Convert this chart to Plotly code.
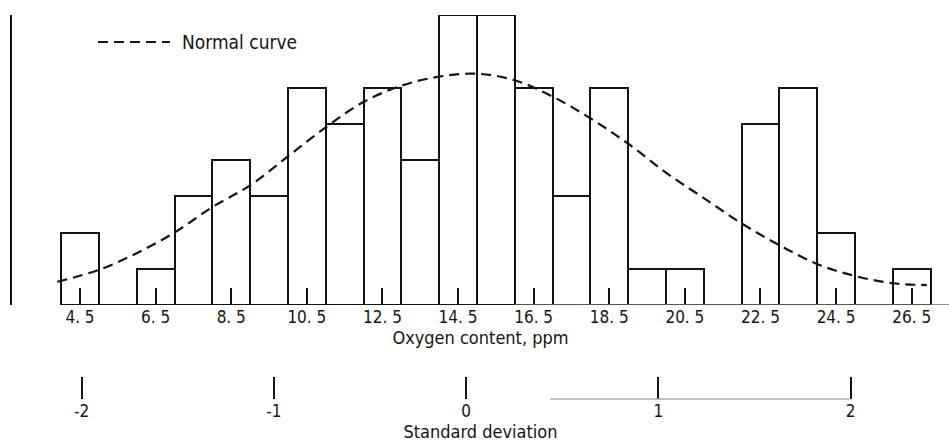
import plotly.graph_objects as go

# ---- data ----
bin_centers = [4.5, 5.5, 6.5, 7.5, 8.5, 9.5, 10.5, 11.5, 12.5, 13.5, 14.5, 15.5,
               16.5, 17.5, 18.5, 19.5, 20.5, 21.5, 22.5, 23.5, 24.5, 25.5, 26.5]
counts = [2, 0, 1, 3, 4, 3, 6, 5, 6, 4, 8, 8,
          6, 3, 6, 1, 1, 0, 5, 6, 2, 0, 1]

curve_x = [3.9, 5, 6, 7, 8, 9, 10, 11, 12, 13, 14, 15, 16, 17, 18, 19, 20, 21,
           22, 23, 24, 25, 26, 26.9]
curve_y = [0.64, 0.97, 1.43, 2.0, 2.7, 3.3, 4.1, 4.9, 5.6, 6.05, 6.3, 6.38, 6.2,
           5.75, 5.15, 4.45, 3.65, 2.95, 2.25, 1.65, 1.13, 0.8, 0.6, 0.55]

ppm_ticks = [4.5, 6.5, 8.5, 10.5, 12.5, 14.5, 16.5, 18.5, 20.5, 22.5, 24.5, 26.5]
ppm_ticktext = ["4. 5", "6. 5", "8. 5", "10. 5", "12. 5", "14. 5", "16. 5",
                "18. 5", "20. 5", "22. 5", "24. 5", "26. 5"]
sd_ticks = [-2, -1, 0, 1, 2]
sd_ticktext = ["-2", "-1", "0", "1", "2"]

x_title = "Oxygen content, ppm"
sd_title = "Standard deviation"
legend_label = "Normal curve"

TICK_FONT = "DejaVu Sans Condensed, DejaVu Sans, sans-serif"
TEXT_FONT = "DejaVu Sans Condensed, DejaVu Sans, sans-serif"
INK = "#141414"

fig = go.Figure()
fig.add_trace(go.Bar(
    x=bin_centers, y=counts, width=1.0,
    marker=dict(color="rgba(255,255,255,0)", line=dict(color=INK, width=2)),
    showlegend=False, hoverinfo="x+y",
))
fig.add_trace(go.Scatter(
    x=curve_x, y=curve_y, mode="lines", line=dict(color=INK, width=2.2,
                                                  dash="10px,6px", shape="spline"),
    name=legend_label, showlegend=False,
))

fig.update_layout(
    width=949, height=445,
    margin=dict(l=12, r=0, t=15, b=46),
    paper_bgcolor="white", plot_bgcolor="white",
    bargap=0,
    xaxis=dict(
        range=[2.701, 27.487], anchor="y",
        tickmode="array", tickvals=ppm_ticks, ticktext=ppm_ticktext,
        ticks="inside", ticklen=17, tickwidth=1.5, tickcolor=INK,
        tickfont=dict(family=TICK_FONT, size=17, color=INK),
        showline=False, showgrid=False, zeroline=False,
        layer="above traces",
        title=dict(text=x_title, font=dict(family=TEXT_FONT, size=18, color=INK),
                   standoff=5),
    ),
    xaxis2=dict(
        overlaying="x", anchor="free", position=0, side="bottom",
        range=[-2.3626, 2.5113],
        tickmode="array", tickvals=sd_ticks, ticktext=sd_ticktext,
        ticks="inside", ticklen=22, tickwidth=1.5, tickcolor=INK,
        tickfont=dict(family=TICK_FONT, size=17, color=INK),
        showline=False, showgrid=False, zeroline=False,
        title=dict(text=sd_title, font=dict(family=TEXT_FONT, size=18, color=INK),
                   standoff=3),
    ),
    yaxis=dict(
        range=[0, 8], domain=[0.2448, 1],
        showline=True, linecolor=INK, linewidth=1.5,
        showticklabels=False, ticks="", showgrid=False, zeroline=False,
    ),
    shapes=[
        # partial baseline of the histogram (as in the scan)
        dict(type="line", xref="x", yref="y", x0=16.0, x1=27.487, y0=0, y1=0,
             line=dict(color="#6e6e6e", width=1.5)),
        # partial line of the standard-deviation scale
        dict(type="line", xref="x2", yref="paper", x0=0.436, x1=2.0, y0=0, y1=0,
             line=dict(color="#8a8a8a", width=1.2)),
        # legend sample
        dict(type="line", xref="paper", yref="paper", x0=0.0918, x1=0.1686,
             y0=0.9297, y1=0.9297, line=dict(color=INK, width=2.2, dash="10px,6px")),
    ],
    annotations=[
        dict(text=legend_label, xref="paper", yref="paper", x=0.1793, y=0.9297,
             xanchor="left", yanchor="middle", showarrow=False,
             font=dict(family=TEXT_FONT, size=19, color=INK)),
    ],
)

fig.write_html("out.html")
